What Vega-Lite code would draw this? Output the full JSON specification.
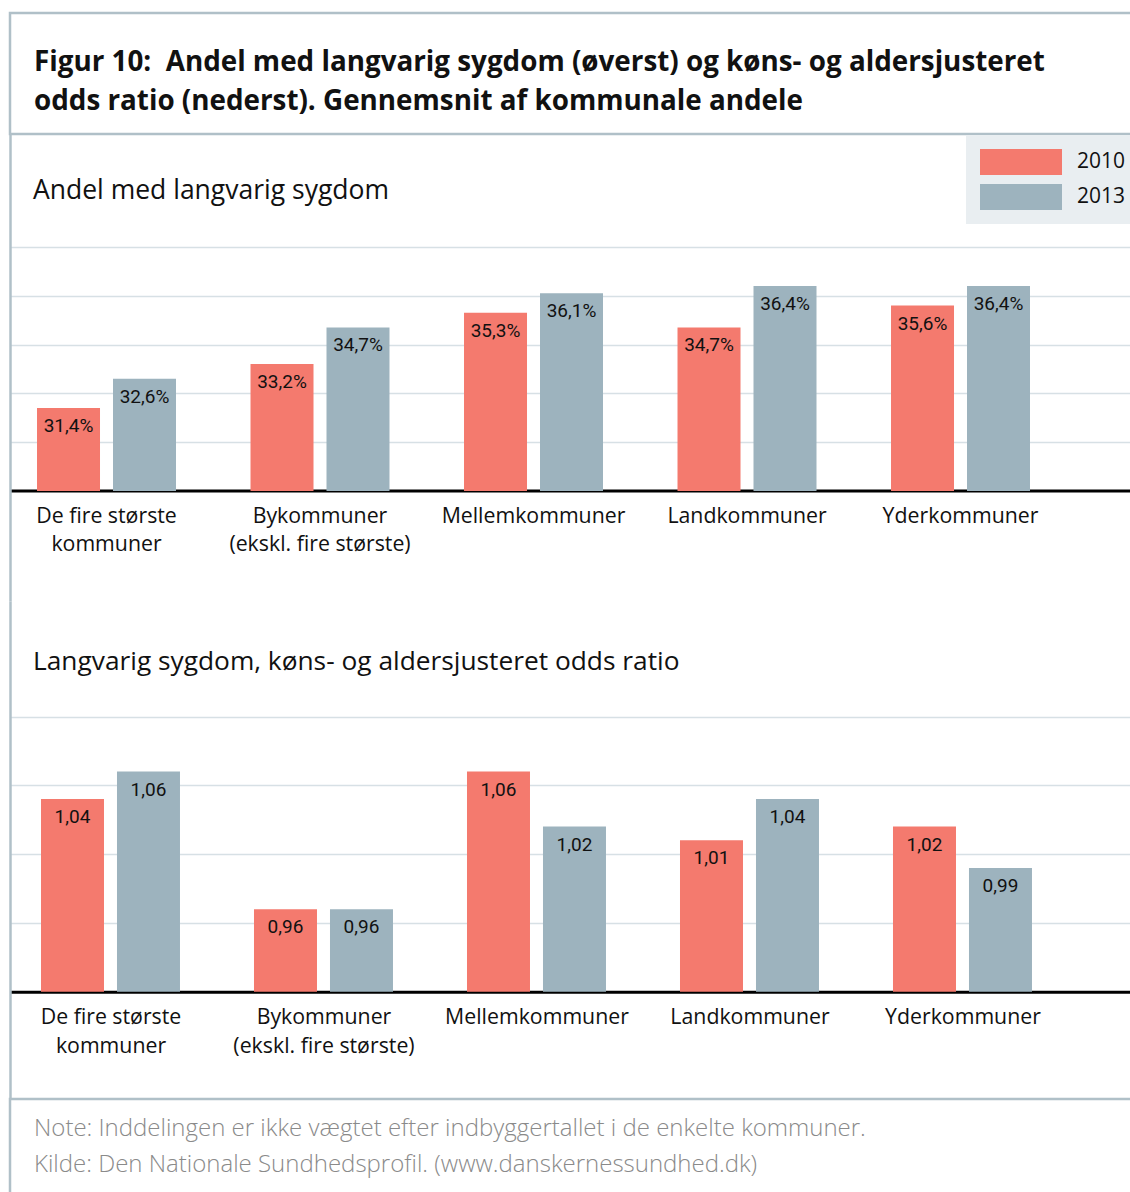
{
  "$schema": "https://vega.github.io/schema/vega-lite/v6.json",
  "padding": {"left": 8, "top": 11, "right": 0, "bottom": 0},
  "background": "white",
  "spacing": 0,
  "bounds": "flush",
  "config": {
    "view": {"stroke": null},
    "font": "Open Sans",
    "locale": {"number": {"decimal": ",", "thousands": ".", "grouping": [3], "currency": ["", " kr."]}}
  },
  "resolve": {"scale": {"color": "independent"}, "legend": {"color": "independent"}},
  "datasets": {
    "andel": [
      {"gruppe": "De fire største kommuner", "aar": "2010", "andel": 0.314},
      {"gruppe": "De fire største kommuner", "aar": "2013", "andel": 0.326},
      {"gruppe": "Bykommuner (ekskl. fire største)", "aar": "2010", "andel": 0.332},
      {"gruppe": "Bykommuner (ekskl. fire største)", "aar": "2013", "andel": 0.347},
      {"gruppe": "Mellemkommuner", "aar": "2010", "andel": 0.353},
      {"gruppe": "Mellemkommuner", "aar": "2013", "andel": 0.361},
      {"gruppe": "Landkommuner", "aar": "2010", "andel": 0.347},
      {"gruppe": "Landkommuner", "aar": "2013", "andel": 0.364},
      {"gruppe": "Yderkommuner", "aar": "2010", "andel": 0.356},
      {"gruppe": "Yderkommuner", "aar": "2013", "andel": 0.364}
    ],
    "odds": [
      {"gruppe": "De fire største kommuner", "aar": "2010", "or": 1.04},
      {"gruppe": "De fire største kommuner", "aar": "2013", "or": 1.06},
      {"gruppe": "Bykommuner (ekskl. fire største)", "aar": "2010", "or": 0.96},
      {"gruppe": "Bykommuner (ekskl. fire største)", "aar": "2013", "or": 0.96},
      {"gruppe": "Mellemkommuner", "aar": "2010", "or": 1.06},
      {"gruppe": "Mellemkommuner", "aar": "2013", "or": 1.02},
      {"gruppe": "Landkommuner", "aar": "2010", "or": 1.01},
      {"gruppe": "Landkommuner", "aar": "2013", "or": 1.04},
      {"gruppe": "Yderkommuner", "aar": "2010", "or": 1.02},
      {"gruppe": "Yderkommuner", "aar": "2013", "or": 0.99}
    ]
  },
  "vconcat": [
    {
      "width": 1131,
      "height": 121,
      "view": {"stroke": "#b0c0c8", "strokeWidth": 2.5},
      "data": {"values": []},
      "mark": "rule",
      "encoding": {},
      "title": {
        "text": ["Figur 10:\u00a0 Andel med langvarig sygdom (øverst) og køns- og aldersjusteret", "odds ratio (nederst). Gennemsnit af kommunale andele"],
        "orient": "top", "anchor": "start", "frame": "group",
        "offset": -125, "dx": 24, "baseline": "alphabetic",
        "font": "Open Sans", "fontSize": 27.8, "fontWeight": "bold", "lineHeight": 39, "color": "#111111"
      }
    },
    {
      "width": 1131,
      "height": 467,
      "data": {"name": "andel"},
      "title": {
        "text": "Andel med langvarig sygdom",
        "orient": "top", "anchor": "start", "frame": "group",
        "offset": -91, "dx": 23, "baseline": "alphabetic",
        "font": "Open Sans", "fontSize": 26.5, "fontWeight": "normal", "color": "#111111"
      },
      "encoding": {
        "x": {
          "field": "gruppe", "type": "nominal", "sort": null,
          "scale": {"paddingInner": 0.349, "paddingOuter": 0.3232, "align": 0.1957},
          "axis": {"orient": "bottom", "offset": -110.6, "domain": true, "domainColor": "#000000", "domainWidth": 3, "ticks": false, "labelPadding": 15, "labelFontSize": 21.3, "labelFont": "Open Sans", "labelColor": "#111111", "labelAngle": 0, "labelLimit": 400, "labelLineHeight": 28.5, "title": null,
            "labelExpr": "datum.label == 'De fire største kommuner' ? ['De fire største', 'kommuner'] : datum.label == 'Bykommuner (ekskl. fire største)' ? ['Bykommuner', '(ekskl. fire største)'] : datum.label"}
        },
        "xOffset": {"field": "aar", "type": "nominal", "scale": {"paddingInner": 0.171, "paddingOuter": 0}},
        "y": {
          "field": "andel", "type": "quantitative",
          "scale": {"domain": [0.2349, 0.4263], "nice": false, "zero": false},
          "axis": {"orient": "left", "domain": true, "domainColor": "#b0c0c8", "domainWidth": 2.5, "labels": false, "ticks": false, "grid": true, "gridColor": "#d7e0e5", "gridWidth": 1.5, "values": [0.30, 0.32, 0.34, 0.36, 0.38], "title": null}
        }
      },
      "layer": [
        {
          "mark": {"type": "bar"},
          "encoding": {
            "y2": {"datum": 0.28},
            "color": {
              "field": "aar", "type": "nominal",
              "scale": {"domain": ["2010", "2013"], "range": ["#f47a6e", "#9db3be"]},
              "legend": {"orient": "top-right", "offset": 1, "title": null, "fillColor": "#e9eef1", "padding": 14,
                "symbolType": "M-1,-1H5.3077V1H-1Z", "symbolSize": 676, "symbolStrokeWidth": 0, "symbolOpacity": 1,
                "labelFontSize": 21, "labelFont": "Open Sans", "labelColor": "#111111", "labelOffset": 71, "rowPadding": 9}
            }
          }
        },
        {
          "mark": {"type": "text", "baseline": "top", "dy": 9, "font": "Roboto", "fontSize": 19, "color": "#111111"},
          "encoding": {
            "text": {"field": "andel", "type": "quantitative", "format": ".1%"}
          }
        }
      ]
    },
    {
      "width": 1131,
      "height": 498,
      "data": {"name": "odds"},
      "title": {
        "text": "Langvarig sygdom, køns- og aldersjusteret odds ratio",
        "orient": "top", "anchor": "start", "frame": "group",
        "offset": -95, "dx": 23, "baseline": "alphabetic",
        "font": "Open Sans", "fontSize": 26.3, "fontWeight": "normal", "color": "#111111"
      },
      "encoding": {
        "x": {
          "field": "gruppe", "type": "nominal", "sort": null,
          "scale": {"paddingInner": 0.3427, "paddingOuter": 0.3263, "align": 0.223},
          "axis": {"orient": "bottom", "offset": -107.3, "domain": true, "domainColor": "#000000", "domainWidth": 3, "ticks": false, "labelPadding": 15, "labelFontSize": 21.3, "labelFont": "Open Sans", "labelColor": "#111111", "labelAngle": 0, "labelLimit": 400, "labelLineHeight": 28.5, "title": null,
            "labelExpr": "datum.label == 'De fire største kommuner' ? ['De fire største', 'kommuner'] : datum.label == 'Bykommuner (ekskl. fire største)' ? ['Bykommuner', '(ekskl. fire største)'] : datum.label"}
        },
        "xOffset": {"field": "aar", "type": "nominal", "scale": {"paddingInner": 0.171, "paddingOuter": 0}},
        "y": {
          "field": "or", "type": "quantitative",
          "scale": {"domain": [0.822, 1.184], "nice": false, "zero": false},
          "axis": {"orient": "left", "domain": true, "domainColor": "#b0c0c8", "domainWidth": 2.5, "labels": false, "ticks": false, "grid": true, "gridColor": "#d7e0e5", "gridWidth": 1.5, "values": [0.95, 1.0, 1.05, 1.1], "title": null}
        }
      },
      "layer": [
        {
          "mark": {"type": "bar"},
          "encoding": {
            "y2": {"datum": 0.9},
            "color": {
              "field": "aar", "type": "nominal",
              "scale": {"domain": ["2010", "2013"], "range": ["#f47a6e", "#9db3be"]},
              "legend": null
            }
          }
        },
        {
          "mark": {"type": "text", "baseline": "top", "dy": 9, "font": "Roboto", "fontSize": 19, "color": "#111111"},
          "encoding": {
            "text": {"field": "or", "type": "quantitative", "format": ".2f"}
          }
        }
      ]
    },
    {
      "width": 1131,
      "height": 110,
      "view": {"stroke": "#b0c0c8", "strokeWidth": 2.5},
      "data": {"values": []},
      "mark": "rule",
      "encoding": {},
      "title": {
        "text": ["Note: Inddelingen er ikke vægtet efter indbyggertallet i de enkelte kommuner.", "Kilde: Den Nationale Sundhedsprofil. (www.danskernessundhed.dk)"],
        "orient": "top", "anchor": "start", "frame": "group",
        "offset": -97, "dx": 24, "baseline": "alphabetic",
        "font": "Open Sans", "fontSize": 24, "fontWeight": 300, "lineHeight": 36, "color": "#8a8a8a"
      }
    }
  ]
}
